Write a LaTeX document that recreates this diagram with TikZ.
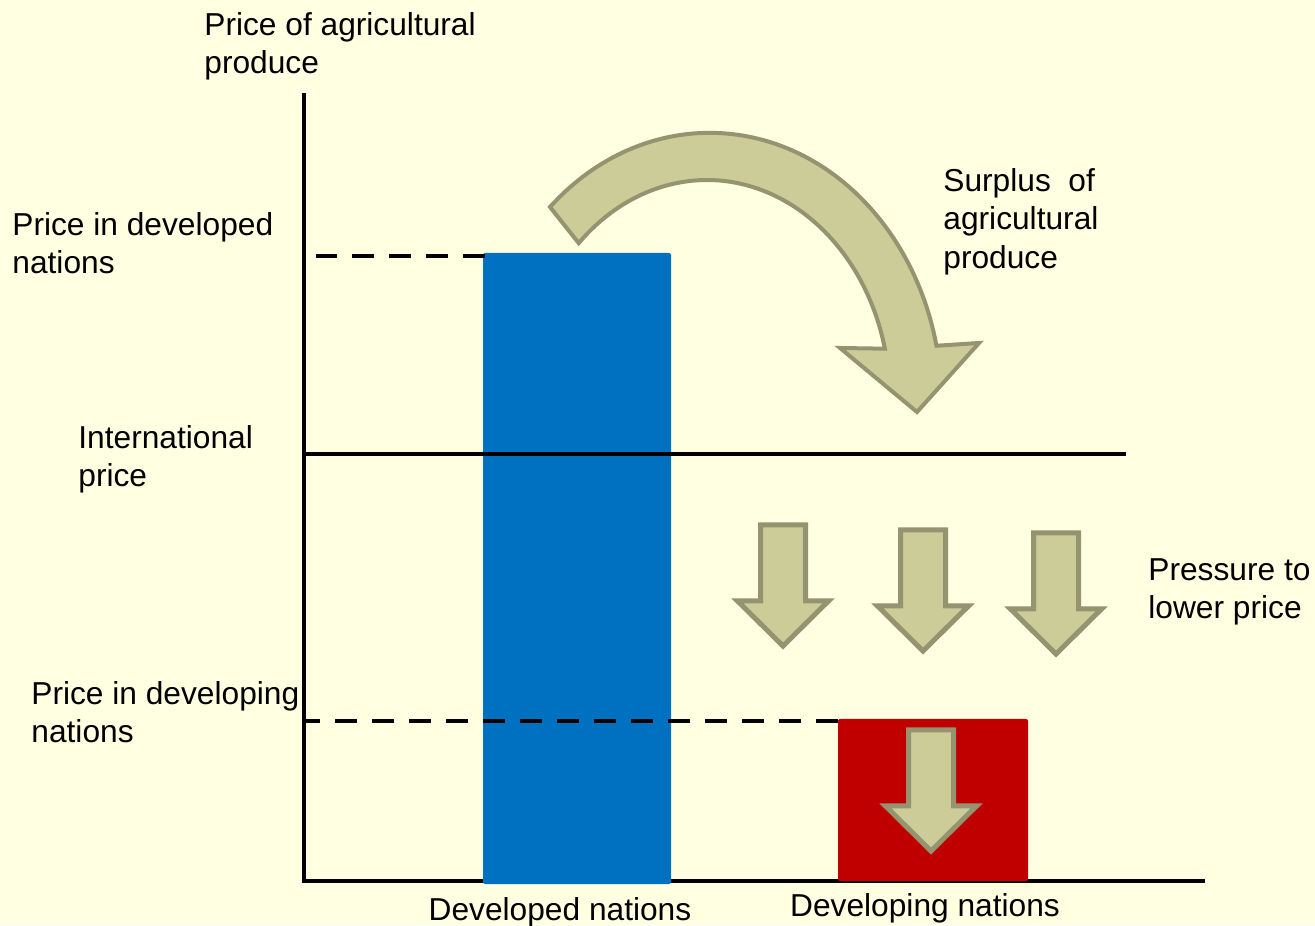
\documentclass[tikz,border=0pt]{standalone}
\usepackage{fontspec}
\usepackage{xcolor}
\setmainfont{Liberation Sans}
\definecolor{paper}{HTML}{FFFFE1}
\definecolor{devblue}{HTML}{0070C0}
\definecolor{devred}{HTML}{C00000}
\definecolor{arrowfill}{HTML}{CCCC99}
\definecolor{arrowline}{HTML}{949470}

\begin{document}
\begin{tikzpicture}[x=0.5pt, y=0.5pt,
  axisline/.style={line width=2.4pt},
  priceline/.style={line width=2.4pt, dash pattern=on 11pt off 7.5pt},
  fatarrow/.style={fill=arrowfill, draw=arrowline, line width=2pt, line join=miter},
  lbl/.style={font=\fontsize{15.85}{19.25}\selectfont, align=left, anchor=north west, inner sep=0pt}]
  \fill [paper] (0,0) rectangle (1315,925);
  \useasboundingbox (0,0) rectangle (1315,925);
  % axes
  \draw [axisline] (304,832)--(304,44)--(1205,44);
  % bars
  \fill [devblue, rounded corners=1pt] (483,41) rectangle (671,672);
  \fill [devred, rounded corners=1pt] (838,44) rectangle (1028,206);
  % price levels
  \draw [axisline] (304,471)--(1126,471);
  \draw [priceline] (485,669)--(316,669);
  \draw [priceline] (838,204)--(306,204);
  % surplus moving across
  \draw [fatarrow] (550,718) arc[start angle=133.5, end angle=12.2, x radius=116pt, y radius=135pt]
    -- (979,582) -- (917,513) -- (840,577) -- (884.9,576.3)
    arc[start angle=13.5, end angle=134.5, x radius=91.5pt, y radius=110pt] -- cycle;
  % downward pressure
  \foreach \x/\t in {783/279, 923/274, 1056/271, 931/74} {
    \draw [fatarrow, line width=2.5pt] (\x-22.5,\t+121) -- (\x+22.5,\t+121) -- (\x+22.5,\t+45)
      -- (\x+45.5,\t+45) -- (\x,\t) -- (\x-45.5,\t+45) -- (\x-22.5,\t+45) -- cycle;
  }
  % labels
  \node [lbl] (yaxis) at (204,913) {Price of agricultural\\produce};
  \node [lbl] (pdev) at (12,713) {Price in developed\\nations};
  \node [lbl] (pint) at (78,500) {International\\price};
  \node [lbl] (pdvg) at (31,244) {Price in developing\\nations};
  \node [lbl] (surplus) at (943,757) {Surplus~ of\\agricultural\\produce};
  \node [lbl] (pressure) at (1148,367) {Pressure to\\lower price};
  \node [lbl, anchor=base] (devd) at (560,5) {Developed nations};
  \node [lbl, anchor=base] (devg) at (925,9) {Developing nations};
\end{tikzpicture}
\end{document}
